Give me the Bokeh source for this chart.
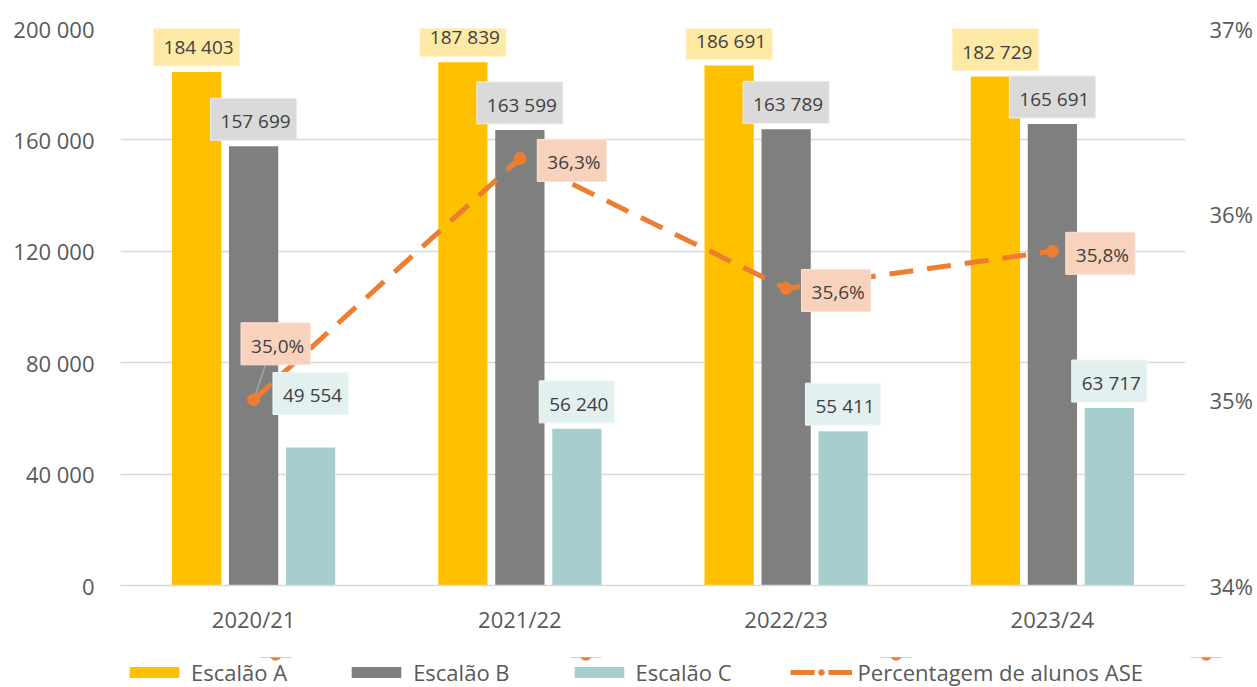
from bokeh.plotting import figure
from bokeh.layouts import column
from bokeh.models import (ColumnDataSource, Range1d, LinearAxis, FactorRange,
                          Legend, LegendItem, FixedTicker, CustomJSTickFormatter)
from bokeh.transform import dodge
from bokeh.core.properties import value
from bokeh.embed import file_html
from bokeh.resources import INLINE

years = ["2020/21", "2021/22", "2022/23", "2023/24"]
escalao_a = [184403, 187839, 186691, 182729]
escalao_b = [157699, 163599, 163789, 165691]
escalao_c = [49554, 56240, 55411, 63717]
pct_ase = [35.0, 36.3, 35.6, 35.8]
y_ticks = [0, 40000, 80000, 120000, 160000, 200000]
pct_ticks = [34, 35, 36, 37]
series_names = ["Escalão A", "Escalão B", "Escalão C", "Percentagem de alunos ASE"]

FONT = "Open Sans"
TXT = "#595959"
TICK_SIZE = "22px"
C_A, C_B, C_C, C_L = "#FFC000", "#7F7F7F", "#A6CECE", "#ED7D31"

def fmt_int(v):
    return f"{v:,}".replace(",", " ")

def fmt_pct(v):
    return f"{v:.1f}%".replace(".", ",")

src = ColumnDataSource(dict(
    x=years, a=escalao_a, b=escalao_b, c=escalao_c, pct=pct_ase,
    la=[fmt_int(v) for v in escalao_a],
    lb=[fmt_int(v) for v in escalao_b],
    lc=[fmt_int(v) for v in escalao_c],
    lp=[fmt_pct(v) for v in pct_ase],
    c_off=[-54, -27, -27, -27],
    p_xoff=[22, 52, 50, 48],
    p_yoff=[-56, 2, 2, 2],
))

p = figure(frame_width=1065, frame_height=557, x_range=FactorRange(*years, range_padding=0),
           y_range=Range1d(0, 200000), output_backend="svg", toolbar_location=None,
           min_border_left=120, min_border_right=40, min_border_top=28,
           min_border_bottom=72)
p.outline_line_color = None
p.background_fill_color = "white"
p.border_fill_color = "white"
p.extra_y_ranges = {"pct": Range1d(34, 37)}

# grid/axes
p.xgrid.grid_line_color = None
p.ygrid.grid_line_color = "#D9D9D9"
p.ygrid.grid_line_width = 1.5
p.yaxis.ticker = FixedTicker(ticks=y_ticks)
p.yaxis.formatter = CustomJSTickFormatter(code="""
    return tick.toFixed(0).replace(/\\B(?=(\\d{3})+(?!\\d))/g, ' ');
""")
p.yaxis.axis_line_color = None
p.yaxis.major_tick_line_color = None
p.yaxis.minor_tick_line_color = None
p.yaxis.major_label_text_font = FONT
p.yaxis.major_label_text_font_size = TICK_SIZE
p.yaxis.major_label_text_color = TXT
p.yaxis.major_label_standoff = 20

p.xaxis.axis_line_color = "#D9D9D9"
p.xaxis.axis_line_width = 1.5
p.xaxis.major_tick_line_color = None
p.xaxis.minor_tick_line_color = None
p.xaxis.major_tick_out = 0
p.xaxis.major_tick_in = 0
p.xaxis.minor_tick_out = 0
p.xaxis.major_label_text_font = FONT
p.xaxis.major_label_text_font_size = TICK_SIZE
p.xaxis.major_label_text_color = TXT
p.xaxis.major_label_standoff = 18

ax2 = LinearAxis(y_range_name="pct", ticker=FixedTicker(ticks=pct_ticks))
ax2.formatter = CustomJSTickFormatter(code="return tick.toFixed(0) + '%';")
ax2.axis_line_color = None
ax2.major_tick_line_color = None
ax2.minor_tick_line_color = None
ax2.major_label_text_font = FONT
ax2.major_label_text_font_size = TICK_SIZE
ax2.major_label_text_color = TXT
ax2.major_label_standoff = 18
p.add_layout(ax2, "right")

W = 0.185
p.vbar(x=dodge("x", -0.214, range=p.x_range), top="a", width=W, source=src,
       fill_color=C_A, line_color=None)
p.vbar(x=dodge("x", 0.0, range=p.x_range), top="b", width=W, source=src,
       fill_color=C_B, line_color=None)
p.vbar(x=dodge("x", 0.214, range=p.x_range), top="c", width=W, source=src,
       fill_color=C_C, line_color=None)

# leader line for the 2020/21 percentage label (drawn under the line)
lead = ColumnDataSource(dict(x=[years[0]], y0=[pct_ase[0]], y1=[pct_ase[0] + 0.19]))
p.segment(x0=dodge("x", 0.0, range=p.x_range), y0="y0",
          x1=dodge("x", 0.045, range=p.x_range), y1="y1",
          source=lead, y_range_name="pct", line_color="#A6A6A6", line_width=1.5)

p.line(x="x", y="pct", source=src, y_range_name="pct", line_color=C_L,
       line_width=5, line_dash="24 14")
p.scatter(x="x", y="pct", source=src, y_range_name="pct", size=12,
          fill_color=C_L, line_color=C_L)

def labels(xd, ycol, tcol, fill, border, y_off=-27, x_off=0, yr=None):
    kw = {}
    if yr:
        kw["y_range_name"] = yr
    p.text(x=dodge("x", xd, range=p.x_range), y=ycol, text=tcol, source=src,
           text_font=value(FONT), text_font_size="19px", text_color="#404040",
           text_align="center", text_baseline="middle",
           x_offset=x_off, y_offset=y_off,
           background_fill_color=fill, border_line_color=border,
           padding=[10, 6, 10, 6], **kw)

labels(-0.214, "a", "la", "#FFE9A6", "#FFF2CC")
labels(0.0, "b", "lb", "#DADADA", "#EDEDED")
labels(0.214, "c", "lc", "#E3F0F0", "#F0F7F7", y_off="c_off")
labels(0.0, "pct", "lp", "#F9D2BD", "#FBE5D6", y_off="p_yoff", x_off="p_xoff", yr="pct")

# legend strip: a separate figure whose ranges keep the series far out of view,
# so only the legend is visible
q = figure(frame_width=1241, frame_height=30, x_range=FactorRange(*years),
           y_range=Range1d(-1e7, -1e6), output_backend="svg", toolbar_location=None,
           x_axis_location=None, y_axis_location=None, min_border=0)
q.grid.visible = False
q.outline_line_color = None
q.border_fill_color = "white"
q.background_fill_color = "white"
la = q.vbar(x="x", top="a", width=0.1, source=src, fill_color=C_A, line_color=None)
lb = q.vbar(x="x", top="b", width=0.1, source=src, fill_color=C_B, line_color=None)
lc = q.vbar(x="x", top="c", width=0.1, source=src, fill_color=C_C, line_color=None)
ll = q.line(x="x", y="pct", source=src, line_color=C_L, line_width=5, line_dash="24 14")
lm = q.scatter(x="x", y="pct", source=src, size=12, fill_color=C_L, line_color=C_L)

legend = Legend(items=[
    LegendItem(label=series_names[0], renderers=[la]),
    LegendItem(label=series_names[1], renderers=[lb]),
    LegendItem(label=series_names[2], renderers=[lc]),
    LegendItem(label=series_names[3], renderers=[ll, lm]),
], orientation="horizontal", location=(123, 0))
legend.label_text_font = FONT
legend.label_text_font_size = TICK_SIZE
legend.label_text_color = TXT
legend.label_height = 22
legend.glyph_width = 62
legend.glyph_height = 14
legend.spacing = 58
legend.label_standoff = 6
legend.border_line_color = None
legend.background_fill_alpha = 0
legend.padding = 0
legend.margin = 0
q.add_layout(legend, "center")

layout = column(p, q, spacing=0)
open("out.html", "w").write(file_html(layout, INLINE))
